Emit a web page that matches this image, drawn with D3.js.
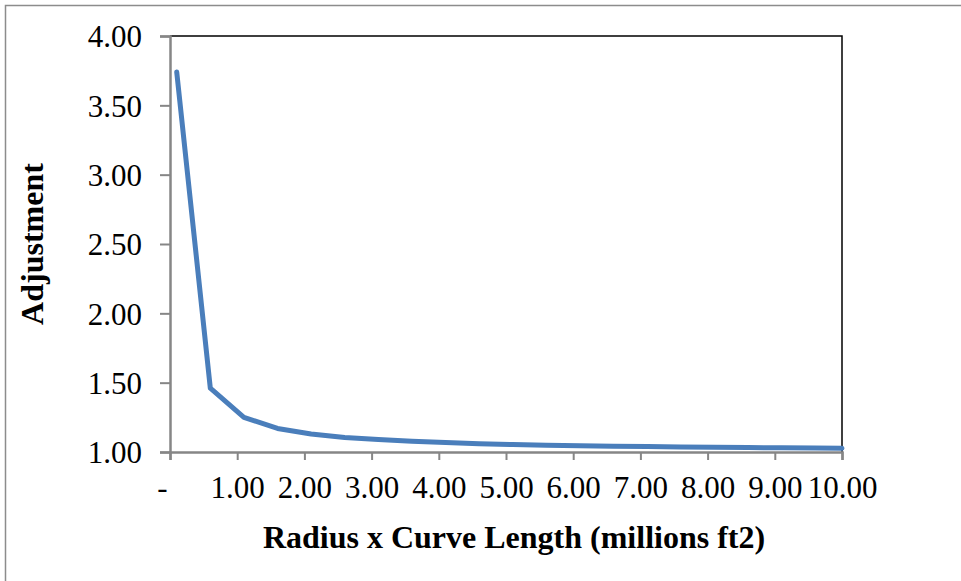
<!DOCTYPE html>
<html>
<head>
<meta charset="utf-8">
<script src="https://cdn.jsdelivr.net/npm/d3@7"></script>
<style>
  html, body { margin: 0; padding: 0; background: #fff; }
</style>
</head>
<body>
<div id="chart"></div>
<script>
// valeurs
var xVals = [0.1, 0.6, 1.1, 1.6, 2.1, 2.6, 3.1, 3.6, 4.1, 4.6, 5.1, 5.6, 6.1, 6.6, 7.1, 7.6, 8.1, 8.6, 9.1, 9.6, 10.0];
var yVals = [3.74, 1.46, 1.25, 1.17, 1.13, 1.105, 1.09, 1.078, 1.068, 1.06, 1.054, 1.049, 1.045, 1.042, 1.039, 1.036, 1.034, 1.032, 1.03, 1.028, 1.027];
var xTicks = [0, 1, 2, 3, 4, 5, 6, 7, 8, 9, 10];
var yTicks = [1.0, 1.5, 2.0, 2.5, 3.0, 3.5, 4.0];

var W = 961, H = 581;
// zone de tracé (attention : "top" est réservé par window)
var pLeft = 170, pRight = 842, pTop = 36, pBottom = 452;

var svg = d3.select("#chart")
  .append("svg")
  .attr("width", W)
  .attr("height", H);

// cadre extérieur
svg.append("rect")
  .attr("x", 5.5).attr("y", 5.5)
  .attr("width", W + 10).attr("height", H + 10)
  .attr("fill", "none")
  .attr("stroke", "#8c8c8c")
  .attr("stroke-width", 1.5);

var x = d3.scaleLinear().domain([0, 10]).range([pLeft, pRight]);
var y = d3.scaleLinear().domain([1, 4]).range([pBottom, pTop]);

// bordure haut / droite de la zone de tracé
svg.append("path")
  .attr("d", `M${pLeft},${pTop}H${pRight}V${pBottom}`)
  .attr("fill", "none")
  .attr("stroke", "#000")
  .attr("stroke-width", 1.5);

var fmt = d3.format(".2f");

var yAxis = svg.append("g")
  .attr("transform", `translate(${pLeft},0)`)
  .call(d3.axisLeft(y).tickValues(yTicks).tickFormat(fmt).tickSize(10).tickPadding(18));

var xAxis = svg.append("g")
  .attr("transform", `translate(0,${pBottom})`)
  .call(d3.axisBottom(x).tickValues(xTicks).tickFormat(d => d === 0 ? "-" : fmt(d)).tickSize(8).tickPadding(16));

[yAxis, xAxis].forEach(g => {
  g.select(".domain").attr("stroke", "#868686").attr("stroke-width", 2.5);
  g.selectAll(".tick line").attr("stroke", "#868686").attr("stroke-width", 2);
  g.selectAll(".tick text")
    .attr("font-family", "'Liberation Serif', 'Times New Roman', serif")
    .attr("font-size", 31)
    .attr("fill", "#000");
});
yAxis.selectAll(".tick text").attr("dy", "0.35em");
// le tiret du zéro est décalé vers la gauche (format comptable)
xAxis.selectAll(".tick text").filter(d => d === 0).attr("dx", -8);

var line = d3.line()
  .x((d, i) => x(xVals[i]))
  .y(d => y(d));

svg.append("path")
  .datum(yVals)
  .attr("d", line)
  .attr("fill", "none")
  .attr("stroke", "#4a7ebb")
  .attr("stroke-width", 5)
  .attr("stroke-linejoin", "round")
  .attr("stroke-linecap", "round");

// titres des axes
svg.append("text")
  .attr("transform", `translate(43,${(pTop + pBottom) / 2}) rotate(-90)`)
  .attr("text-anchor", "middle")
  .attr("font-family", "'Liberation Serif', 'Times New Roman', serif")
  .attr("font-weight", "bold")
  .attr("font-size", 32)
  .text("Adjustment");

svg.append("text")
  .attr("x", 514)
  .attr("y", 548)
  .attr("text-anchor", "middle")
  .attr("font-family", "'Liberation Serif', 'Times New Roman', serif")
  .attr("font-weight", "bold")
  .attr("font-size", 32)
  .text("Radius x Curve Length (millions ft2)");
</script>
</body>
</html>
